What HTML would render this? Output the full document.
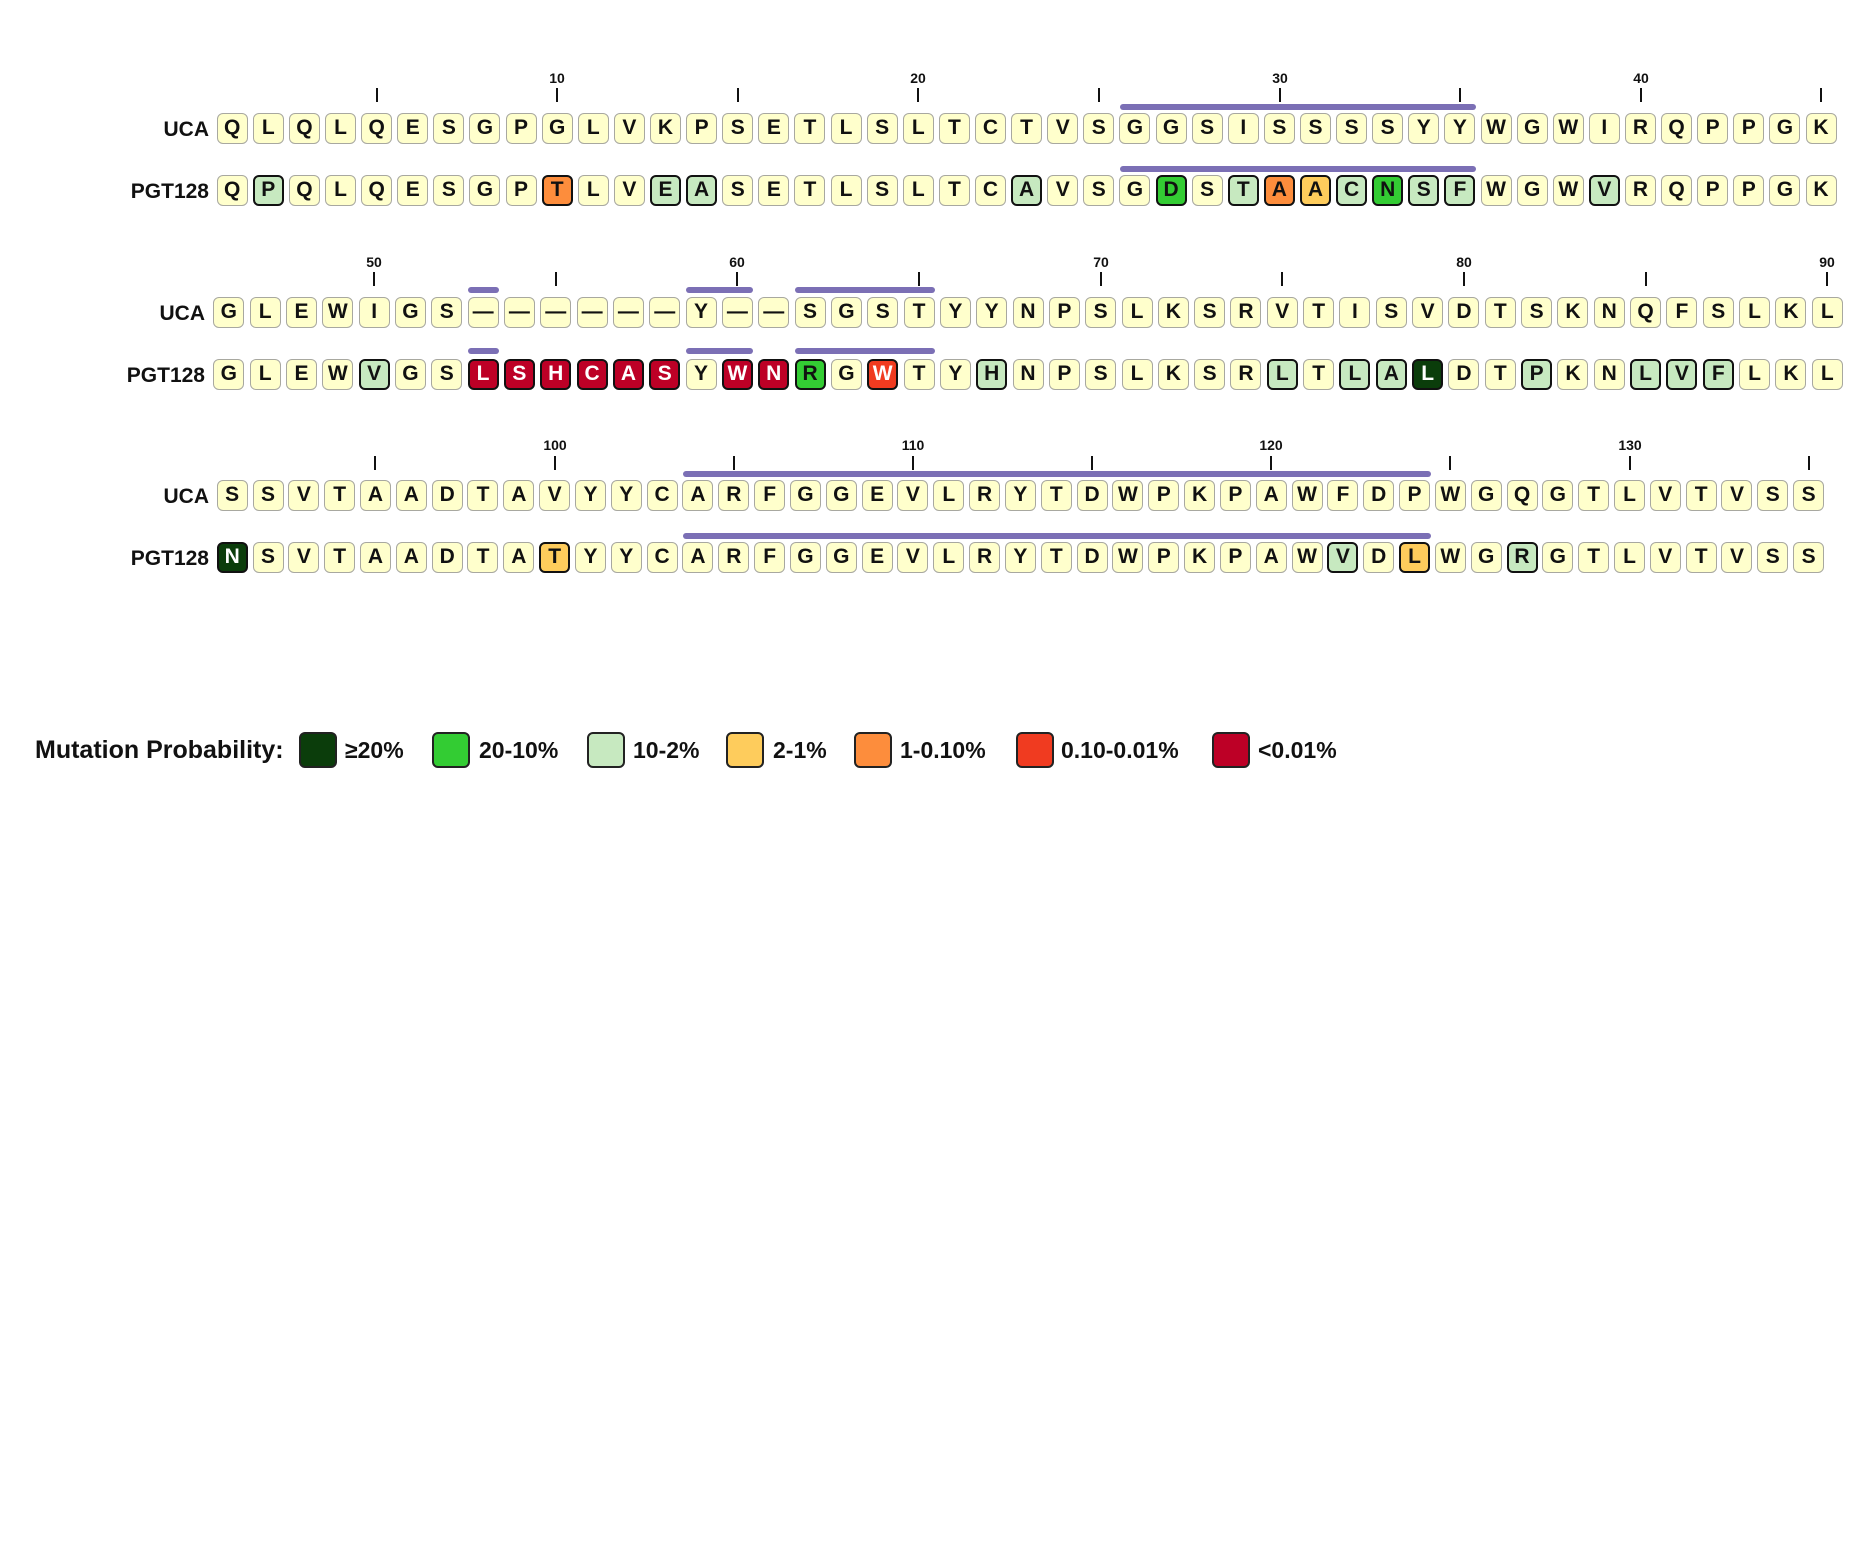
<!DOCTYPE html>
<html><head><meta charset="utf-8">
<style>
*{margin:0;padding:0;box-sizing:border-box}
body{width:1876px;height:1563px;background:#fff;position:relative;overflow:hidden;font-family:"Liberation Sans",Arial,sans-serif;color:#111}
.r{position:absolute;display:flex;height:31px}
.r b{flex:none;width:31px;height:31px;border:1.5px solid #a8a8a0;border-radius:6px;background:#ffffcc;font-weight:bold;font-size:21px;line-height:28px;text-align:center}
.b1 b{margin-right:5.12px}.b2 b{margin-right:5.33px}.b3 b{margin-right:4.83px}
.r b.c1,.r b.c2,.r b.c3,.r b.c4,.r b.c5,.r b.c6,.r b.c7{border:2.5px solid #111;line-height:26px}
.c1{background:#0b3d0b!important;color:#fff}
.c2{background:#33cc33!important}
.c3{background:#c7e9c0!important}
.c4{background:#fecc5c!important}
.c5{background:#fd8d3c!important}
.c6{background:#f03b20!important;color:#fff}
.c7{background:#bd0026!important;color:#fff}
.lab{position:absolute;width:200px;text-align:right;font-weight:bold;font-size:21px;line-height:31px}
.t{position:absolute;width:2px;height:14px;background:#111}
.n{position:absolute;width:40px;margin-left:-20px;text-align:center;font-weight:bold;font-size:14px;line-height:14px}
.bar{position:absolute;height:6px;border-radius:3px;background:#7b6fb5}
.lg{position:absolute;top:732px;width:38px;height:36px;border:2px solid #222;border-radius:6px}
.lt{position:absolute;top:736px;font-weight:bold;font-size:23px;line-height:28px}
</style></head><body>

<!-- Block 1 -->
<div class="n" style="left:557px;top:71px">10</div>
<div class="n" style="left:918px;top:71px">20</div>
<div class="n" style="left:1280px;top:71px">30</div>
<div class="n" style="left:1641px;top:71px">40</div>
<div class="t" style="left:376px;top:88px"></div>
<div class="t" style="left:556px;top:88px"></div>
<div class="t" style="left:737px;top:88px"></div>
<div class="t" style="left:917px;top:88px"></div>
<div class="t" style="left:1098px;top:88px"></div>
<div class="t" style="left:1279px;top:88px"></div>
<div class="t" style="left:1459px;top:88px"></div>
<div class="t" style="left:1640px;top:88px"></div>
<div class="t" style="left:1820px;top:88px"></div>
<div class="bar" style="left:1120px;top:104px;width:356px"></div>
<div class="bar" style="left:1120px;top:166px;width:356px"></div>
<div class="lab" style="left:9px;top:114px">UCA</div>
<div class="lab" style="left:9px;top:176px">PGT128</div>
<div class="r b1" style="left:216.7px;top:113px"><b>Q</b><b>L</b><b>Q</b><b>L</b><b>Q</b><b>E</b><b>S</b><b>G</b><b>P</b><b>G</b><b>L</b><b>V</b><b>K</b><b>P</b><b>S</b><b>E</b><b>T</b><b>L</b><b>S</b><b>L</b><b>T</b><b>C</b><b>T</b><b>V</b><b>S</b><b>G</b><b>G</b><b>S</b><b>I</b><b>S</b><b>S</b><b>S</b><b>S</b><b>Y</b><b>Y</b><b>W</b><b>G</b><b>W</b><b>I</b><b>R</b><b>Q</b><b>P</b><b>P</b><b>G</b><b>K</b></div>
<div class="r b1" style="left:216.7px;top:175px"><b>Q</b><b class="c3">P</b><b>Q</b><b>L</b><b>Q</b><b>E</b><b>S</b><b>G</b><b>P</b><b class="c5">T</b><b>L</b><b>V</b><b class="c3">E</b><b class="c3">A</b><b>S</b><b>E</b><b>T</b><b>L</b><b>S</b><b>L</b><b>T</b><b>C</b><b class="c3">A</b><b>V</b><b>S</b><b>G</b><b class="c2">D</b><b>S</b><b class="c3">T</b><b class="c5">A</b><b class="c4">A</b><b class="c3">C</b><b class="c2">N</b><b class="c3">S</b><b class="c3">F</b><b>W</b><b>G</b><b>W</b><b class="c3">V</b><b>R</b><b>Q</b><b>P</b><b>P</b><b>G</b><b>K</b></div>

<!-- Block 2 -->
<div class="n" style="left:374px;top:255px">50</div>
<div class="n" style="left:737px;top:255px">60</div>
<div class="n" style="left:1101px;top:255px">70</div>
<div class="n" style="left:1464px;top:255px">80</div>
<div class="n" style="left:1827px;top:255px">90</div>
<div class="t" style="left:373px;top:272px"></div>
<div class="t" style="left:555px;top:272px"></div>
<div class="t" style="left:736px;top:272px"></div>
<div class="t" style="left:918px;top:272px"></div>
<div class="t" style="left:1100px;top:272px"></div>
<div class="t" style="left:1281px;top:272px"></div>
<div class="t" style="left:1463px;top:272px"></div>
<div class="t" style="left:1645px;top:272px"></div>
<div class="t" style="left:1826px;top:272px"></div>
<div class="bar" style="left:467.6px;top:287px;width:31px"></div>
<div class="bar" style="left:685.6px;top:287px;width:67px"></div>
<div class="bar" style="left:794.6px;top:287px;width:140px"></div>
<div class="bar" style="left:467.6px;top:348px;width:31px"></div>
<div class="bar" style="left:685.6px;top:348px;width:67px"></div>
<div class="bar" style="left:794.6px;top:348px;width:140px"></div>
<div class="lab" style="left:5px;top:298px">UCA</div>
<div class="lab" style="left:5px;top:360px">PGT128</div>
<div class="r b2" style="left:213.3px;top:297px"><b>G</b><b>L</b><b>E</b><b>W</b><b>I</b><b>G</b><b>S</b><b>—</b><b>—</b><b>—</b><b>—</b><b>—</b><b>—</b><b>Y</b><b>—</b><b>—</b><b>S</b><b>G</b><b>S</b><b>T</b><b>Y</b><b>Y</b><b>N</b><b>P</b><b>S</b><b>L</b><b>K</b><b>S</b><b>R</b><b>V</b><b>T</b><b>I</b><b>S</b><b>V</b><b>D</b><b>T</b><b>S</b><b>K</b><b>N</b><b>Q</b><b>F</b><b>S</b><b>L</b><b>K</b><b>L</b></div>
<div class="r b2" style="left:213.3px;top:359px"><b>G</b><b>L</b><b>E</b><b>W</b><b class="c3">V</b><b>G</b><b>S</b><b class="c7">L</b><b class="c7">S</b><b class="c7">H</b><b class="c7">C</b><b class="c7">A</b><b class="c7">S</b><b>Y</b><b class="c7">W</b><b class="c7">N</b><b class="c2">R</b><b>G</b><b class="c6">W</b><b>T</b><b>Y</b><b class="c3">H</b><b>N</b><b>P</b><b>S</b><b>L</b><b>K</b><b>S</b><b>R</b><b class="c3">L</b><b>T</b><b class="c3">L</b><b class="c3">A</b><b class="c1">L</b><b>D</b><b>T</b><b class="c3">P</b><b>K</b><b>N</b><b class="c3">L</b><b class="c3">V</b><b class="c3">F</b><b>L</b><b>K</b><b>L</b></div>

<!-- Block 3 -->
<div class="n" style="left:555px;top:438px">100</div>
<div class="n" style="left:913px;top:438px">110</div>
<div class="n" style="left:1271px;top:438px">120</div>
<div class="n" style="left:1630px;top:438px">130</div>
<div class="t" style="left:374px;top:456px"></div>
<div class="t" style="left:554px;top:456px"></div>
<div class="t" style="left:733px;top:456px"></div>
<div class="t" style="left:912px;top:456px"></div>
<div class="t" style="left:1091px;top:456px"></div>
<div class="t" style="left:1270px;top:456px"></div>
<div class="t" style="left:1449px;top:456px"></div>
<div class="t" style="left:1629px;top:456px"></div>
<div class="t" style="left:1808px;top:456px"></div>
<div class="bar" style="left:682.5px;top:471px;width:748px"></div>
<div class="bar" style="left:682.5px;top:533px;width:748px"></div>
<div class="lab" style="left:9px;top:481px">UCA</div>
<div class="lab" style="left:9px;top:543px">PGT128</div>
<div class="r b3" style="left:216.7px;top:480px"><b>S</b><b>S</b><b>V</b><b>T</b><b>A</b><b>A</b><b>D</b><b>T</b><b>A</b><b>V</b><b>Y</b><b>Y</b><b>C</b><b>A</b><b>R</b><b>F</b><b>G</b><b>G</b><b>E</b><b>V</b><b>L</b><b>R</b><b>Y</b><b>T</b><b>D</b><b>W</b><b>P</b><b>K</b><b>P</b><b>A</b><b>W</b><b>F</b><b>D</b><b>P</b><b>W</b><b>G</b><b>Q</b><b>G</b><b>T</b><b>L</b><b>V</b><b>T</b><b>V</b><b>S</b><b>S</b></div>
<div class="r b3" style="left:216.7px;top:542px"><b class="c1">N</b><b>S</b><b>V</b><b>T</b><b>A</b><b>A</b><b>D</b><b>T</b><b>A</b><b class="c4">T</b><b>Y</b><b>Y</b><b>C</b><b>A</b><b>R</b><b>F</b><b>G</b><b>G</b><b>E</b><b>V</b><b>L</b><b>R</b><b>Y</b><b>T</b><b>D</b><b>W</b><b>P</b><b>K</b><b>P</b><b>A</b><b>W</b><b class="c3">V</b><b>D</b><b class="c4">L</b><b>W</b><b>G</b><b class="c3">R</b><b>G</b><b>T</b><b>L</b><b>V</b><b>T</b><b>V</b><b>S</b><b>S</b></div>

<!-- Legend -->
<div class="lt" style="left:35px;font-size:25px;top:736px">Mutation Probability:</div>
<div class="lg c1" style="left:299px"></div><div class="lt" style="left:345px">≥20%</div>
<div class="lg c2" style="left:432px"></div><div class="lt" style="left:479px">20-10%</div>
<div class="lg c3" style="left:587px"></div><div class="lt" style="left:633px">10-2%</div>
<div class="lg c4" style="left:726px"></div><div class="lt" style="left:773px">2-1%</div>
<div class="lg c5" style="left:854px"></div><div class="lt" style="left:900px">1-0.10%</div>
<div class="lg c6" style="left:1016px"></div><div class="lt" style="left:1061px">0.10-0.01%</div>
<div class="lg c7" style="left:1212px"></div><div class="lt" style="left:1258px">&lt;0.01%</div>
</body></html>
